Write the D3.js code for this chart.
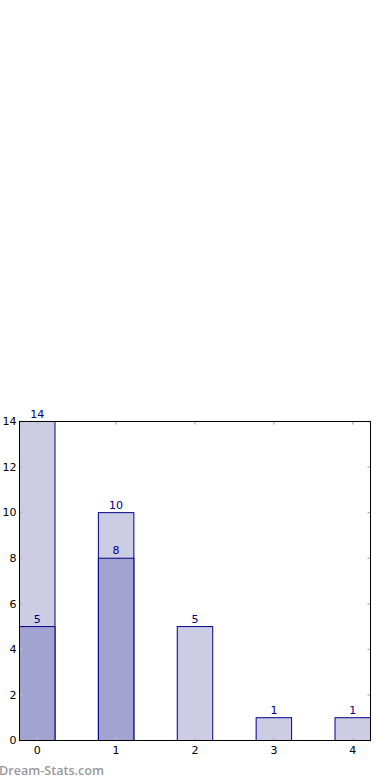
<!DOCTYPE html>
<html>
<head>
<meta charset="utf-8">
<script src="https://cdn.jsdelivr.net/npm/d3@7"></script>
<style>
  body { margin: 0; background: #fff; }
  svg { display: block; font-family: "DejaVu Sans", sans-serif; }
</style>
</head>
<body>
<svg id="chart" width="390" height="780"></svg>
<script>
// ============ Data ============
const categories = [0, 1, 2, 3, 4];
const totalValues = [14, 10, 5, 1, 1];
const innerValues = [5, 8, 0, 0, 0];
const yTicks = [0, 2, 4, 6, 8, 10, 12, 14];

// ============ Layout ============
const PL = 19.5, PR = 370.5, PT = 421.5, PB = 740.5;
const BAR_W = 0.45;

const svg = d3.select("#chart");

const x = d3.scaleLinear().domain([-0.225, 4.225]).range([PL, PR]);
const y = d3.scaleLinear().domain([0, 14]).range([PB, PT]);

// ---- Bars (total behind, inner in front) ----
svg.append("g").selectAll("rect")
  .data(categories)
  .enter().append("rect")
  .attr("x", d => x(d - BAR_W / 2))
  .attr("width", d => x(d + BAR_W / 2) - x(d - BAR_W / 2))
  .attr("y", (d, i) => y(totalValues[i]))
  .attr("height", (d, i) => y(0) - y(totalValues[i]))
  .attr("fill", "#ccccE5")
  .attr("stroke", "#000080")
  .attr("stroke-width", 1);

svg.append("g").selectAll("rect")
  .data(categories.filter((d, i) => innerValues[i] > 0))
  .enter().append("rect")
  .attr("x", d => x(d - BAR_W / 2))
  .attr("width", d => x(d + BAR_W / 2) - x(d - BAR_W / 2))
  .attr("y", d => y(innerValues[d]))
  .attr("height", d => y(0) - y(innerValues[d]))
  .attr("fill", "#a3a3d1")
  .attr("stroke", "#000080")
  .attr("stroke-width", 1);

// ---- Value labels ----
const labels = svg.append("g")
  .attr("font-size", 11)
  .attr("fill", "#000080")
  .attr("text-anchor", "middle");
categories.forEach((d, i) => {
  labels.append("text").attr("x", x(d)).attr("y", y(totalValues[i]) - 4).text(totalValues[i]);
  if (innerValues[i] > 0)
    labels.append("text").attr("x", x(d)).attr("y", y(innerValues[i]) - 4).text(innerValues[i]);
});

// ---- Inner tick marks (gray) ----
const ticks = svg.append("g").attr("stroke", "#bbbbbb").attr("stroke-width", 1.5);
categories.forEach(d => {
  ticks.append("line").attr("x1", x(d)).attr("x2", x(d)).attr("y1", PB).attr("y2", PB - 3);
  ticks.append("line").attr("x1", x(d)).attr("x2", x(d)).attr("y1", PT).attr("y2", PT + 3);
});
yTicks.forEach(t => {
  ticks.append("line").attr("x1", PL).attr("x2", PL + 3).attr("y1", y(t)).attr("y2", y(t));
  ticks.append("line").attr("x1", PR).attr("x2", PR - 3).attr("y1", y(t)).attr("y2", y(t));
});

// ---- Frame ----
svg.append("rect")
  .attr("x", PL).attr("y", PT)
  .attr("width", PR - PL).attr("height", PB - PT)
  .attr("fill", "none").attr("stroke", "#000").attr("stroke-width", 1);

// ---- Tick labels ----
const tl = svg.append("g").attr("font-size", 11).attr("fill", "#000");
yTicks.forEach(t => {
  tl.append("text").attr("x", PL - 3).attr("y", y(t)).attr("dy", "0.35em")
    .attr("text-anchor", "end").text(t);
});
categories.forEach(d => {
  tl.append("text").attr("x", x(d)).attr("y", PB + 13)
    .attr("text-anchor", "middle").text(d);
});

// ---- Watermark ----
svg.append("text")
  .attr("x", -1).attr("y", 775)
  .attr("font-family", "'Open Sans', sans-serif")
  .attr("font-size", 12.6).attr("font-weight", 600)
  .attr("fill", "#999999")
  .text("Dream-Stats.com");
</script>
</body>
</html>
